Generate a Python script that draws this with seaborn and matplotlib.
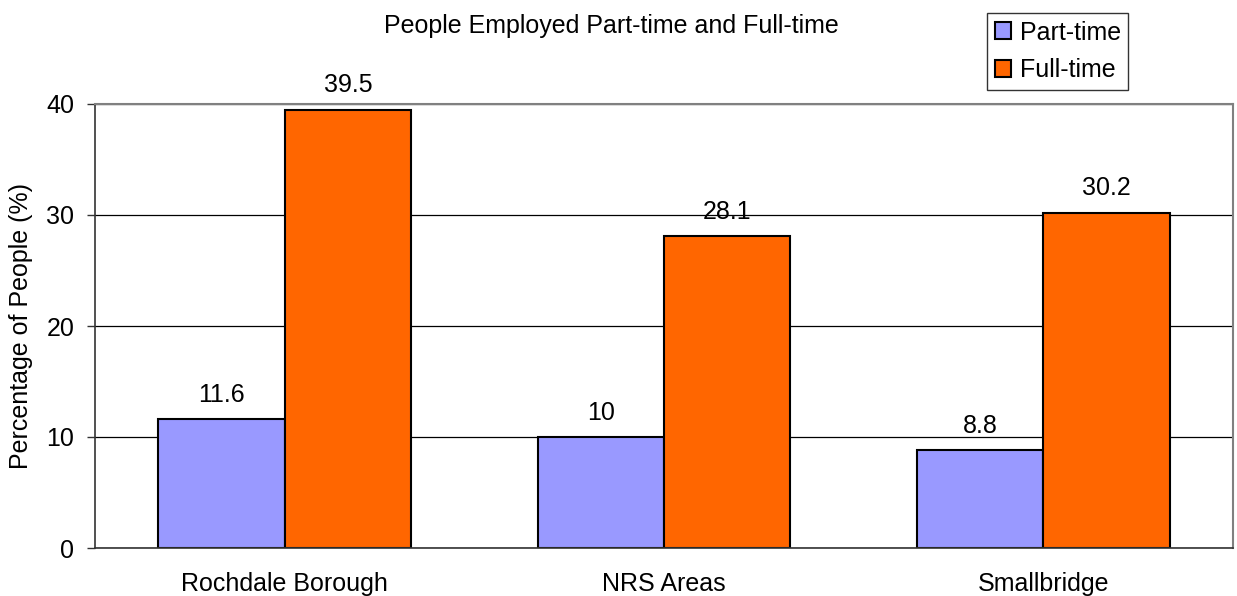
import matplotlib
matplotlib.use("Agg")
import matplotlib.pyplot as plt
import seaborn as sns
import pandas as pd

categories = ["Rochdale Borough", "NRS Areas", "Smallbridge"]
series_names = ["Part-time", "Full-time"]
part_time = [11.6, 10, 8.8]
full_time = [39.5, 28.1, 30.2]
y_ticks = [0, 10, 20, 30, 40]
title = "People Employed Part-time and Full-time"
y_label = "Percentage of People (%)"

df = pd.DataFrame({
    "Area": categories * 2,
    "Type": [series_names[0]] * 3 + [series_names[1]] * 3,
    "Value": part_time + full_time,
})

sns.set_theme(style="white")
plt.rcParams["font.family"] = ["Liberation Sans", "DejaVu Sans"]
plt.rcParams.update({"text.color": "black", "axes.labelcolor": "black",
                     "xtick.color": "black", "ytick.color": "black"})
FS = 18

W, H = 1237, 596
fig = plt.figure(figsize=(W / 100, H / 100), dpi=100)
ax = fig.add_axes([95 / W, (H - 548) / H, (1233 - 95) / W, (548 - 104) / H])

palette = {"Part-time": "#9999FF", "Full-time": "#FF6600"}
sns.barplot(data=df, x="Area", y="Value", hue="Type", hue_order=series_names,
            order=categories, palette=palette, width=2 / 3, gap=0,
            edgecolor="black", linewidth=1.5, saturation=1, ax=ax, legend=True,
            err_kws={"linewidth": 0})

handles, labels = ax.get_legend_handles_labels()
if ax.get_legend() is not None:
    ax.get_legend().remove()

for c in ax.containers:
    ax.bar_label(c, fmt="%g", padding=9, fontsize=FS, color="black")

ax.set_xlim(-0.5, len(categories) - 0.5)
ax.set_ylim(0, 40)
ax.set_yticks(y_ticks)
ax.set_yticklabels([str(t) for t in y_ticks], fontsize=FS)
ax.set_xticks(range(len(categories)))
ax.set_xticklabels(categories, fontsize=FS)
ax.set_xticks([i - 0.5 for i in range(len(categories) + 1)], minor=True)
ax.tick_params(axis="x", which="major", length=0, pad=17, labelcolor="black")
ax.tick_params(axis="x", which="minor", length=6.5, width=1, color="#333333", direction="out")
ax.tick_params(axis="y", which="major", length=6, width=1, color="#333333",
               direction="out", pad=9, left=True, labelcolor="black")
ax.set_xlabel("")
ax.set_ylabel(y_label, fontsize=FS, color="black")
ax.yaxis.set_label_coords(-(95 - 33) / (1233 - 95), 0.5)

ax.grid(axis="y", color="black", linewidth=0.9)
ax.grid(axis="x", visible=False)
ax.set_axisbelow(True)

for s in ["top", "right"]:
    ax.spines[s].set_color("#808080")
    ax.spines[s].set_linewidth(1.5)
for s in ["left", "bottom"]:
    ax.spines[s].set_color("#333333")
    ax.spines[s].set_linewidth(1.2)
    ax.spines[s].set_visible(True)
for s in ax.spines.values():
    s.set_zorder(5)

fig.text(611 / W, 1 - 26 / H, title, ha="center", va="center", fontsize=FS, color="black")

leg = fig.legend(handles, labels, loc="upper left",
                 bbox_to_anchor=(987 / W, 1 - 13 / H), fontsize=FS,
                 frameon=True, fancybox=False, edgecolor="black",
                 handlelength=0.65, handleheight=0.65, handletextpad=0.35,
                 labelspacing=0.55, borderpad=0.3, borderaxespad=0)
leg.get_frame().set_linewidth(1.0)
for t in leg.get_texts():
    t.set_color("black")
for h in leg.legend_handles:
    h.set_edgecolor("black")
    h.set_linewidth(1.5)

fig.savefig("out.png", dpi=100, facecolor="white")
